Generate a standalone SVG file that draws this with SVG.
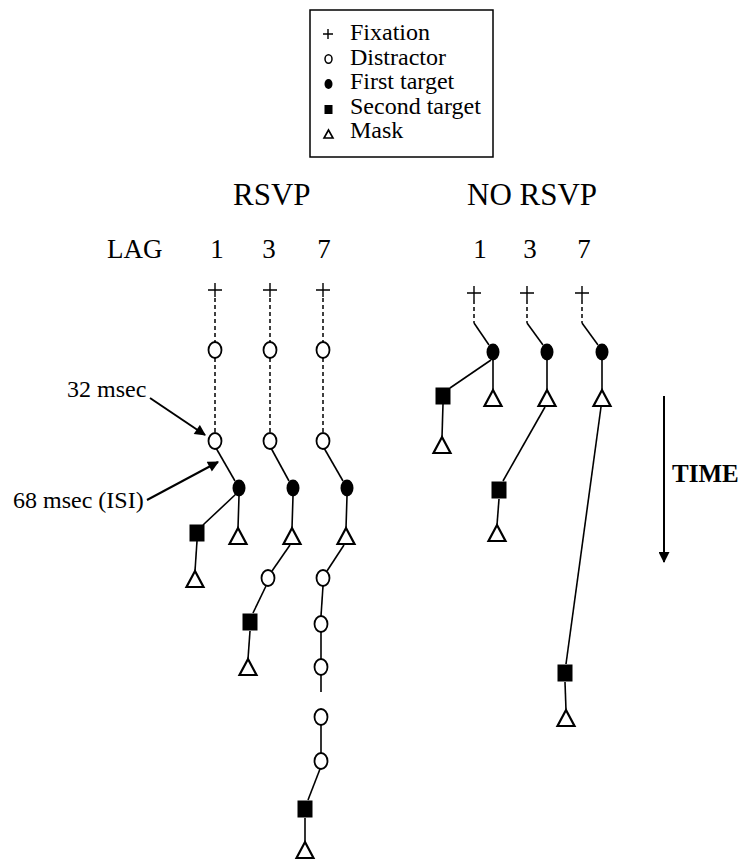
<svg xmlns="http://www.w3.org/2000/svg" width="745" height="859" viewBox="0 0 745 859" font-family="'Liberation Serif', 'DejaVu Serif', serif">
<style>
text{font-family:'Liberation Serif','DejaVu Serif',serif;fill:#000}
.lg{font-size:24px}
.hd{font-size:31px}
.lag{font-size:27px}
.num{font-size:27px;text-anchor:middle}
.lbl{font-size:24px}
.time{font-size:25px;font-weight:bold}
.fix{stroke:#000;stroke-width:1.4;fill:none}
.dis{fill:#fff;stroke:#000;stroke-width:1.8}
.t1{fill:#000;stroke:none}
.t2{fill:#000;stroke:none}
.msk{fill:#fff;stroke:#000;stroke-width:2.2;stroke-linejoin:miter}
.ln{stroke:#000;stroke-width:1.6;fill:none}
.dash{stroke:#000;stroke-width:1.5;fill:none;stroke-dasharray:4 3}
.arr{stroke:#000;stroke-width:2;fill:none}
</style>
<defs>
<marker id="ah" viewBox="0 0 10 10" refX="9" refY="5" markerWidth="13" markerHeight="11" markerUnits="userSpaceOnUse" orient="auto">
<path d="M0,0 L10,5 L0,10 z" fill="#000"/>
</marker>
<path id="cross" d="M-7,0 H7 M0,-7 V7" class="fix"/>
<ellipse id="dis" rx="6.5" ry="8" class="dis"/>
<ellipse id="t1" rx="6.5" ry="8.5" class="t1"/>
<rect id="t2" x="-7.5" y="-8.5" width="15" height="17" class="t2"/>
<path id="msk" d="M0,-8 L8.5,8 L-8.5,8 Z" class="msk"/>
</defs>

<g id="legend">
<rect x="310" y="10" width="183" height="147" fill="#fff" stroke="#000" stroke-width="1.5"/>
<path d="M323,34 H333 M328,29 V39" class="fix"/>
<ellipse cx="328.5" cy="59" rx="3.5" ry="4.2" fill="#fff" stroke="#000" stroke-width="1.5"/>
<ellipse cx="328.5" cy="84" rx="4" ry="5" fill="#000"/>
<rect x="324.5" y="105" width="8" height="9" fill="#000"/>
<path d="M328.5,130 L333,138 L324,138 Z" fill="#fff" stroke="#000" stroke-width="1.6"/>
<text class="lg" x="350" y="40" font-family="'Liberation Serif', serif">Fixation</text>
<text class="lg" x="350" y="64.5" font-family="'Liberation Serif', serif">Distractor</text>
<text class="lg" x="350" y="89" font-family="'Liberation Serif', serif">First target</text>
<text class="lg" x="350" y="113.5" font-family="'Liberation Serif', serif">Second target</text>
<text class="lg" x="350" y="138" font-family="'Liberation Serif', serif">Mask</text>
</g>

<g id="headers">
<text class="hd" x="233" y="205">RSVP</text>
<text class="hd" x="467" y="205">NO RSVP</text>
<text class="lag" x="107" y="258">LAG</text>
<text class="num" x="217" y="258">1</text>
<text class="num" x="269" y="258">3</text>
<text class="num" x="324" y="258">7</text>
<text class="num" x="480" y="258">1</text>
<text class="num" x="530" y="258">3</text>
<text class="num" x="584" y="258">7</text>
</g>

<g id="connectors">
<line x1="215" y1="298" x2="215" y2="342" class="dash"/>
<line x1="215" y1="358" x2="215" y2="433" class="dash"/>
<line x1="216" y1="448" x2="235" y2="481" class="ln"/>
<line x1="239" y1="496" x2="238" y2="528" class="ln"/>
<line x1="236" y1="494" x2="203" y2="525" class="ln"/>
<line x1="197" y1="541" x2="195" y2="571" class="ln"/>
<line x1="270" y1="298" x2="270" y2="342" class="dash"/>
<line x1="270" y1="358" x2="270" y2="433" class="dash"/>
<line x1="271" y1="448" x2="289" y2="481" class="ln"/>
<line x1="293" y1="496" x2="292" y2="528" class="ln"/>
<line x1="290" y1="545" x2="272" y2="571" class="ln"/>
<line x1="266" y1="586" x2="253" y2="613" class="ln"/>
<line x1="250" y1="631" x2="248" y2="659" class="ln"/>
<line x1="323" y1="298" x2="323" y2="342" class="dash"/>
<line x1="323" y1="358" x2="323" y2="433" class="dash"/>
<line x1="324" y1="448" x2="343" y2="481" class="ln"/>
<line x1="347" y1="496" x2="346" y2="528" class="ln"/>
<line x1="344" y1="545" x2="327" y2="571" class="ln"/>
<line x1="323" y1="586" x2="321" y2="616" class="ln"/>
<line x1="321" y1="632" x2="321" y2="659" class="ln"/>
<line x1="321" y1="675" x2="321" y2="692" class="ln"/>
<line x1="321" y1="725" x2="321" y2="753" class="ln"/>
<line x1="320" y1="769" x2="308" y2="800" class="ln"/>
<line x1="305" y1="818" x2="305" y2="843" class="ln"/>
<line x1="474" y1="300" x2="474" y2="323" class="dash"/>
<line x1="474" y1="323" x2="489" y2="345" class="ln"/>
<line x1="491" y1="360" x2="450" y2="388" class="ln"/>
<line x1="493" y1="360" x2="493" y2="390" class="ln"/>
<line x1="443" y1="404" x2="442" y2="437" class="ln"/>
<line x1="527" y1="300" x2="527" y2="323" class="dash"/>
<line x1="527" y1="323" x2="543" y2="345" class="ln"/>
<line x1="547" y1="360" x2="547" y2="390" class="ln"/>
<line x1="545" y1="407" x2="503" y2="481" class="ln"/>
<line x1="499" y1="499" x2="497" y2="525" class="ln"/>
<line x1="582" y1="300" x2="582" y2="323" class="dash"/>
<line x1="582" y1="323" x2="598" y2="345" class="ln"/>
<line x1="602" y1="360" x2="602" y2="390" class="ln"/>
<line x1="601" y1="407" x2="566" y2="664" class="ln"/>
<line x1="565" y1="682" x2="566" y2="710" class="ln"/>
<line x1="150" y1="398" x2="205" y2="435" class="arr" marker-end="url(#ah)"/>
<line x1="147" y1="500" x2="218" y2="462" class="arr" marker-end="url(#ah)"/>
<line x1="664" y1="396" x2="664" y2="562" class="arr" marker-end="url(#ah)"/>
</g>

<g id="rsvp-lag1">
<use href="#cross" x="215" y="290"/>
<use href="#dis" x="215" y="350"/>
<use href="#dis" x="215" y="441"/>
<use href="#t1" x="239" y="488"/>
<use href="#msk" x="238" y="536"/>
<use href="#t2" x="197" y="533"/>
<use href="#msk" x="195" y="579"/>
</g>
<g id="rsvp-lag3">
<use href="#cross" x="270" y="290"/>
<use href="#dis" x="270" y="350"/>
<use href="#dis" x="270" y="441"/>
<use href="#t1" x="293" y="488"/>
<use href="#msk" x="292" y="536"/>
<use href="#dis" x="268" y="578"/>
<use href="#t2" x="250" y="622"/>
<use href="#msk" x="248" y="667"/>
</g>
<g id="rsvp-lag7">
<use href="#cross" x="323" y="290"/>
<use href="#dis" x="323" y="350"/>
<use href="#dis" x="323" y="441"/>
<use href="#t1" x="347" y="488"/>
<use href="#msk" x="346" y="536"/>
<use href="#dis" x="323" y="578"/>
<use href="#dis" x="321" y="624"/>
<use href="#dis" x="321" y="667"/>
<use href="#dis" x="321" y="717"/>
<use href="#dis" x="321" y="761"/>
<use href="#t2" x="305" y="809"/>
<use href="#msk" x="305" y="850"/>
</g>
<g id="norsvp-lag1">
<use href="#cross" x="474" y="293"/>
<use href="#t1" x="493" y="352"/>
<use href="#msk" x="493" y="398"/>
<use href="#t2" x="443" y="396"/>
<use href="#msk" x="442" y="445"/>
</g>
<g id="norsvp-lag3">
<use href="#cross" x="527" y="293"/>
<use href="#t1" x="547" y="352"/>
<use href="#msk" x="547" y="398"/>
<use href="#t2" x="499" y="490"/>
<use href="#msk" x="497" y="533"/>
</g>
<g id="norsvp-lag7">
<use href="#cross" x="582" y="293"/>
<use href="#t1" x="602" y="352"/>
<use href="#msk" x="602" y="398"/>
<use href="#t2" x="565" y="673"/>
<use href="#msk" x="566" y="718"/>
</g>

<g id="labels">
<text class="lbl" x="67" y="397">32 msec</text>
<text class="lbl" x="13" y="508">68 msec (ISI)</text>
<text class="time" x="672" y="482">TIME</text>
</g>
</svg>
